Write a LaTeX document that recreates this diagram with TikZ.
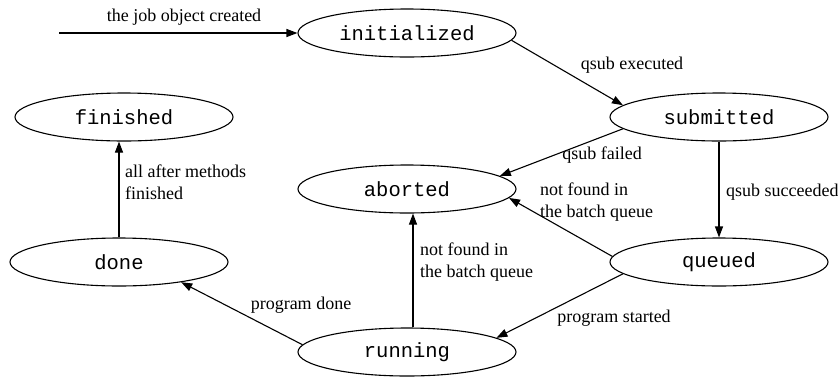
\documentclass[tikz,border=0pt]{standalone}
\usepackage{fontspec}
\setmainfont{Liberation Serif}
\newfontfamily\statefont{Liberation Mono}
\usetikzlibrary{shapes.geometric,arrows.meta}
\begin{document}
\begin{tikzpicture}[x=1pt,y=-1pt,
  state/.style={ellipse,draw,line width=1.1pt,minimum width=218pt,minimum height=48pt,
    inner sep=0pt,font=\statefont\fontsize{20.5}{24}\selectfont},
  trans/.style={draw,line width=1.1pt,-{Triangle[length=11pt,width=8pt]}},
  lbl/.style={font=\fontsize{18}{21.5}\selectfont,inner sep=0pt,align=left}]
\useasboundingbox (0,0) rectangle (838,376);

% job states
\node[state] (init) at (407,33)  {initialized};
\node[state] (sub)  at (719,117) {submitted};
\node[state] (fin)  at (124,117) {finished};
\node[state] (abt)  at (407,189) {aborted};
\node[state] (done) at (119,262) {done};
\node[state] (que)  at (719,262) {queued};
\node[state] (run)  at (407,352) {running};

% transitions
\coordinate (start) at (59,33);
\draw[trans] (start) -- (init.west);
\draw[trans] (init.-4) -- (sub.173);
\draw[trans] (sub.187) -- (abt.8);
\draw[trans] (sub.south) -- (que.north);
\draw[trans] (que.177) -- (abt.-5);
\draw[trans] (que.187) -- (run.9);
\draw[trans] ([xshift=6pt]run.north) -- ([xshift=6pt]abt.south);
\draw[trans] (run.176) -- (done.-18);
\draw[trans] (done.north) -- (done.north |- fin.south);

% transition labels (multi-line labels are placed by their last baseline)
\node[lbl,anchor=base] (l1) at (184,21) {the job object created};
\node[lbl,anchor=base] (l2) at (632,69) {qsub executed};
\node[lbl,anchor=base] (l3) at (602,159) {qsub failed};
\node[lbl,anchor=base west] (l4) at (726,196) {qsub succeeded};
\node[lbl,anchor=base west] (l5) at (540,217) {not found in\\the batch queue};
\node[lbl,anchor=base west] (l6) at (420,277) {not found in\\the batch queue};
\node[lbl,anchor=base] (l7) at (614,322) {program started};
\node[lbl,anchor=base] (l8) at (301,309) {program done};
\node[lbl,anchor=base west] (l9) at (125,199) {all after methods\\finished};
\end{tikzpicture}
\end{document}
